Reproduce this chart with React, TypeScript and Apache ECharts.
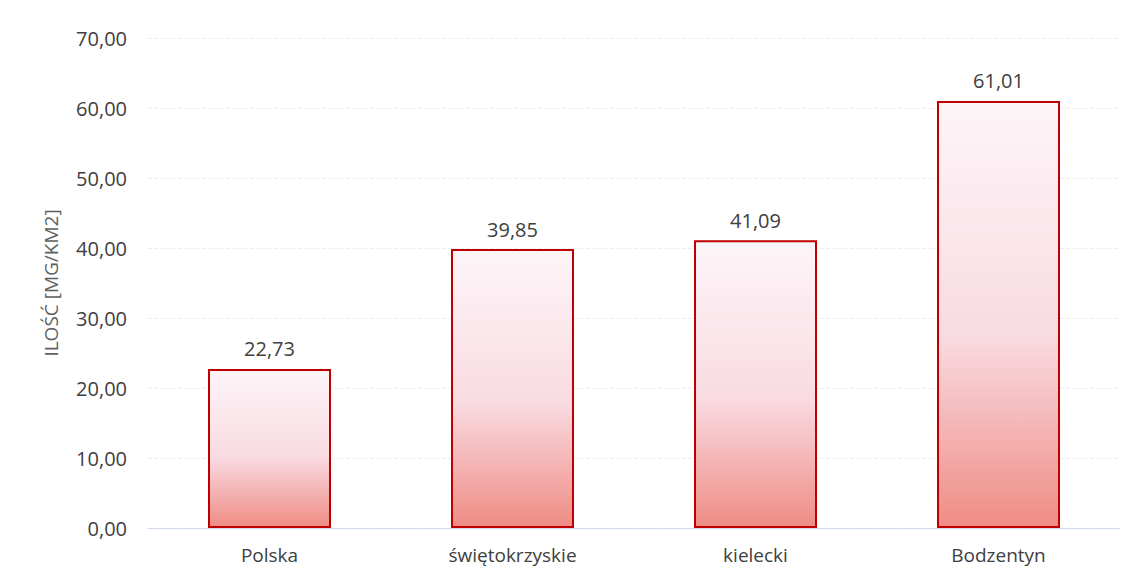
import React, { useEffect, useRef } from "react";
import * as echarts from "echarts";

const categories = ["Polska", "świętokrzyskie", "kielecki", "Bodzentyn"];
const values = [22.73, 39.85, 41.09, 61.01];
const yAxisName = "ILOŚĆ [MG/KM2]";

const fmt = (v: number) => v.toFixed(2).replace(".", ",");

export default function App() {
  const ref = useRef<HTMLDivElement>(null);
  useEffect(() => {
    if (!ref.current) return;
    const chart = echarts.init(ref.current, undefined, { renderer: "svg" });
    const font = "'Open Sans', 'Noto Sans', sans-serif";
    chart.setOption({
      animation: false,
      backgroundColor: "#ffffff",
      grid: { left: 148, right: 13, top: 38, bottom: 41, containLabel: false },
      xAxis: {
        type: "category",
        data: categories,
        axisLine: { show: true, lineStyle: { color: "#c9d3e3", type: "dotted", width: 1 } },
        axisTick: { show: false },
        axisLabel: { color: "#404040", fontSize: 19, fontFamily: font, margin: 17 },
      },
      yAxis: {
        type: "value",
        min: 0,
        max: 70,
        interval: 10,
        name: yAxisName,
        nameLocation: "middle",
        nameGap: 88,
        nameRotate: 90,
        nameTextStyle: { color: "#606060", fontSize: 19, fontFamily: font },
        axisLine: { show: false },
        axisTick: { show: false },
        axisLabel: {
          color: "#404040",
          fontSize: 20,
          fontFamily: font,
          margin: 21,
          formatter: (v: number) => fmt(v),
        },
        splitLine: { show: true, lineStyle: { color: "#eceff5", type: "dashed", width: 1 } },
      },
      series: [
        {
          type: "bar",
          data: values,
          barWidth: 123,
          itemStyle: {
            color: new echarts.graphic.LinearGradient(0, 0, 0, 1, [
              { offset: 0, color: "#fdf5f8" },
              { offset: 0.55, color: "#f9dbe2" },
              { offset: 1, color: "#ef8c84" },
            ]),
            borderColor: "#c00000",
            borderWidth: 2,
          },
          label: {
            show: true,
            position: "top",
            distance: 10,
            color: "#404040",
            fontSize: 20,
            fontFamily: font,
            formatter: (p: any) => fmt(p.value),
          },
        },
      ],
    });
    return () => chart.dispose();
  }, []);
  return <div ref={ref} style={{ width: 1133, height: 569, position: "absolute", left: 0, top: 0 }} />;
}
